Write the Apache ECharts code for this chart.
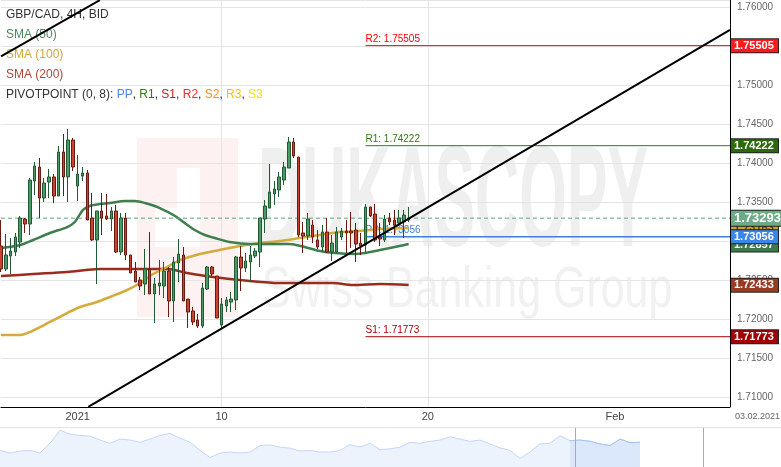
<!DOCTYPE html>
<html><head><meta charset="utf-8">
<script src="https://cdn.jsdelivr.net/npm/echarts/dist/echarts.min.js"></script>
<style>html,body{margin:0;padding:0;background:#fff}#c{width:781px;height:467px}</style>
</head><body><div id="c"></div>
<script>
// ---- data ----
const tickLabels = ['2021', '10', '20', 'Feb'];
const tickIndex = [16, 46, 89, 128];
const slotCount = 153;
// [open, close, low, high]
const candles = [
[1.72936,1.72641,1.72603,1.73269],[1.72641,1.72821,1.72615,1.73090],[1.72808,1.72872,1.72577,1.73038],
[1.72859,1.73051,1.72808,1.73103],[1.72987,1.73295,1.72910,1.73321],[1.73282,1.73218,1.73103,1.73295],
[1.73218,1.73782,1.73077,1.73808],[1.73769,1.73962,1.73590,1.74013],[1.73949,1.73551,1.73295,1.74064],
[1.73551,1.73744,1.73500,1.73808],[1.73756,1.73821,1.73551,1.73923],[1.73821,1.73577,1.73487,1.73859],
[1.73577,1.74141,1.73577,1.74218],[1.74141,1.73821,1.73577,1.74372],[1.73821,1.74295,1.73500,1.74436],
[1.74295,1.73949,1.73898,1.74321],[1.73705,1.73859,1.73513,1.74103],[1.73834,1.73872,1.73769,1.73949],
[1.73872,1.73269,1.73269,1.73910],[1.73295,1.73013,1.73000,1.73615],[1.73013,1.73385,1.72449,1.73385],
[1.73385,1.73295,1.73077,1.73615],[1.73321,1.73282,1.73269,1.73603],[1.73282,1.73385,1.73128,1.73436],
[1.73385,1.72859,1.72846,1.73462],[1.72859,1.73295,1.72821,1.73359],[1.73295,1.72821,1.72756,1.73359],
[1.72821,1.72590,1.72590,1.72821],[1.72615,1.72474,1.72474,1.72731],[1.72500,1.72423,1.72372,1.72539],
[1.72449,1.72641,1.72308,1.72897],[1.72641,1.72321,1.72321,1.73115],[1.72321,1.72449,1.71949,1.72526],
[1.72423,1.72462,1.72308,1.72756],[1.72423,1.72615,1.72269,1.72731],[1.72615,1.72231,1.72026,1.72667],
[1.72231,1.72731,1.71962,1.72795],[1.72718,1.72833,1.72474,1.73026],[1.72821,1.72231,1.72231,1.72923],
[1.72256,1.72090,1.71885,1.72256],[1.72103,1.71962,1.71923,1.72154],[1.71987,1.71910,1.71885,1.72064],
[1.71910,1.72397,1.71885,1.72462],[1.72385,1.72667,1.72372,1.72680],[1.72667,1.72577,1.72551,1.72680],
[1.72551,1.72013,1.72013,1.72551],[1.71923,1.72192,1.71885,1.72269],[1.72167,1.72244,1.72090,1.72282],
[1.72218,1.72256,1.72090,1.72346],[1.72244,1.72795,1.72115,1.72808],[1.72795,1.72654,1.72359,1.72936],
[1.72654,1.72744,1.72603,1.72846],[1.72731,1.72821,1.72474,1.72936],[1.72808,1.72872,1.72782,1.72910],
[1.72859,1.73295,1.72667,1.73295],[1.73282,1.73449,1.73103,1.73526],[1.73423,1.73628,1.73423,1.73987],
[1.73603,1.73667,1.73462,1.73769],[1.73654,1.73821,1.73564,1.73885],[1.73782,1.73949,1.73718,1.74013],
[1.73936,1.74269,1.73936,1.74334],[1.74269,1.74090,1.74064,1.74321],[1.74077,1.73077,1.73051,1.74077],
[1.73103,1.73064,1.72846,1.73244],[1.73064,1.73282,1.73013,1.73359],[1.73205,1.73051,1.72974,1.73269],
[1.73013,1.72923,1.72897,1.73141],[1.72923,1.73115,1.72859,1.73205],[1.73115,1.72859,1.72846,1.73295],
[1.72859,1.72974,1.72744,1.73077],[1.72859,1.73115,1.72846,1.73179],[1.73051,1.73128,1.73013,1.73167],
[1.73128,1.73103,1.72846,1.73269],[1.73128,1.73103,1.72910,1.73372],[1.73141,1.72962,1.72731,1.73231],
[1.72974,1.72936,1.72821,1.73103],[1.72949,1.73436,1.72859,1.73474],[1.73436,1.73321,1.73308,1.73436],
[1.73346,1.73013,1.72987,1.73474],[1.73051,1.73026,1.72936,1.73231],[1.73013,1.73282,1.72987,1.73333],
[1.73295,1.73244,1.73205,1.73359],[1.73269,1.73205,1.73077,1.73398],[1.73231,1.73295,1.73192,1.73398],
[1.73244,1.73333,1.73038,1.73398],[1.73269,1.73293,1.73244,1.73436]
];
// moving averages as [slot, price]
const sma50 = [[0,1.72910],[4,1.72949],[6.7,1.73013],[10.2,1.73103],[13.8,1.73179],[15.4,1.73244],[17.1,1.73398],
[18.5,1.73449],[20.6,1.73474],[22.7,1.73487],[25.8,1.73513],[27.9,1.73513],[30,1.73487],[33.1,1.73423],[36.3,1.73321],
[38.3,1.73231],[40.4,1.73141],[42.5,1.73077],[44.6,1.73038],[47.7,1.72987],[51.9,1.72962],[56,1.72962],[60.2,1.72962],
[63.3,1.72923],[66.5,1.72872],[69.6,1.72846],[73.8,1.72833],[75.8,1.72846],[79,1.72885],[82.1,1.72923],[85,1.72962]];
const sma100 = [[0,1.71795],[4,1.71795],[6,1.71833],[10.2,1.71962],[13.8,1.72077],[16.5,1.72154],[20,1.72218],
[22.7,1.72282],[26.3,1.72372],[29,1.72462],[31.7,1.72577],[34.6,1.72667],[37.3,1.72756],[41.5,1.72833],[45.6,1.72885],
[49.8,1.72936],[54,1.72974],[58.1,1.73000],[62.3,1.73038],[66.5,1.73077],[70.6,1.73115],[74.8,1.73128],[79,1.73154],[85,1.73167]];
const sma200 = [[0,1.72551],[6.7,1.72577],[13.8,1.72603],[20.6,1.72641],[27.5,1.72641],[34.6,1.72641],[38.8,1.72590],
[44.2,1.72539],[51.9,1.72487],[58.1,1.72462],[62.3,1.72462],[69.2,1.72462],[73.3,1.72436],[79,1.72449],[85,1.72436]];
const trend1 = [[0, 1.75367], [20.6, 1.76088]];
const trend2 = [[18.2, 1.70874], [152, 1.75708]];
const pivotStart = 76;
const pivots = [
  {name: 'R2', value: 1.75505, color: '#ff0000'},
  {name: 'R1', value: 1.74222, color: '#2e7a0e'},
  {name: 'PP', value: 1.73056, color: '#3c7fe0'},
  {name: 'S1', value: 1.71773, color: '#a80000'}
];
const lastPrice = 1.73293;
// right-axis value tags: price level and shown text, drawn bottom-most first
const tagLevels = [1.72433, 1.71773, 1.75505, 1.74222, 1.72950, 1.73163, 1.73056, 1.73293];
const tagTexts = ['1.72433', '1.71773', '1.75505', '1.74222', '1.72857', '1.73163', '1.73056', '1.73293'];
const navValues = [1.685,1.6717,1.6817,1.685,1.6717,1.7217,1.7883,1.7683,1.7617,1.7583,1.7383,1.7217,1.7433,1.7383,
1.7267,1.7433,1.7617,1.7717,1.7483,1.7267,1.685,1.6483,1.6717,1.6767,1.6717,1.6767,1.71,1.7133,1.7017,1.6967,1.6817,
1.685,1.6767,1.6767,1.685,1.715,1.7017,1.7217,1.6883,1.6933,1.7017,1.7267,1.7217,1.7317,1.7383,1.755,1.7433,1.7317,
1.7383,1.7183,1.6983,1.685,1.6433,1.6767,1.7183,1.7217,1.76,1.735,1.7383,1.7317,1.7183,1.71,1.7433,1.725,1.7267];
const navWindowStart = 57;

// ---- build ----
const categories = Array.from({length: slotCount}, () => '');
tickIndex.forEach((ix, k) => { categories[ix] = tickLabels[k]; });
const FONT = 'Liberation Sans, Arial, sans-serif';
const tagStyle = [
  {bg: '#9b3a22'}, {bg: '#a00000'}, {bg: '#ff1a1a'}, {bg: '#2b6a0c'}, {bg: '#3b7a4b'},
  {bg: '#c9a233', fg: '#5a4a10'}, {bg: '#3a86e8'}, {bg: '#6daa86', size: 13}
];

const series = [
  {type: 'candlestick', xAxisIndex: 0, yAxisIndex: 0, data: candles, barWidth: 3, z: 3,
   itemStyle: {color: '#4c9868', color0: '#c9432f', borderColor: '#1f5a33', borderColor0: '#6a1a10', borderWidth: 1}},
  {type: 'line', xAxisIndex: 1, yAxisIndex: 0, data: sma200, showSymbol: false, smooth: 0.3, z: 2,
   lineStyle: {color: '#982d1d', width: 2.5}},
  {type: 'line', xAxisIndex: 1, yAxisIndex: 0, data: sma100, showSymbol: false, smooth: 0.3, z: 2,
   lineStyle: {color: '#d4aa3a', width: 2.5}},
  {type: 'line', xAxisIndex: 1, yAxisIndex: 0, data: sma50, showSymbol: false, smooth: 0.3, z: 2,
   lineStyle: {color: '#3f7f4e', width: 2.5}},
  {type: 'line', xAxisIndex: 1, yAxisIndex: 0, data: [[0, lastPrice], [slotCount - 1, lastPrice]], showSymbol: false, z: 2,
   lineStyle: {color: '#5ba57b', type: [4, 3], width: 1}}
];
pivots.forEach(p => {
  series.push({type: 'line', xAxisIndex: 1, yAxisIndex: 0, z: 1, showSymbol: true, symbolSize: 0,
    lineStyle: {color: p.color, width: p.name === 'PP' ? 1.5 : 1},
    data: [{value: [pivotStart, p.value], label: {show: true, position: 'top', align: 'left', distance: 1,
      formatter: p.name + ': ' + p.value.toFixed(5), color: p.color, fontSize: 10, fontFamily: FONT}},
      [slotCount - 1, p.value]]});
});
series.push({type: 'line', xAxisIndex: 1, yAxisIndex: 0, data: trend1, showSymbol: false, z: 4, lineStyle: {color: '#000', width: 2}});
series.push({type: 'line', xAxisIndex: 1, yAxisIndex: 0, data: trend2, showSymbol: false, z: 4, lineStyle: {color: '#000', width: 2}});
tagLevels.forEach((v, k) => {
  const st = tagStyle[k];
  series.push({type: 'line', xAxisIndex: 1, yAxisIndex: 0, z: 6, showSymbol: true, symbolSize: 0, silent: true,
    data: [[slotCount - 1, v]], lineStyle: {opacity: 0},
    label: {show: true, position: 'right', distance: 1, formatter: tagTexts[k], backgroundColor: st.bg,
      color: st.fg || '#fff', fontFamily: FONT, fontSize: st.size || 11, fontWeight: 'bold',
      padding: [1, 3, 1, 3], width: st.size ? 44 : 41, borderColor: '#222', borderWidth: 1, align: 'left'}});
});
series.push({type: 'line', xAxisIndex: 2, yAxisIndex: 1, data: navValues.map((v, i) => [i, v]), showSymbol: false,
  lineStyle: {color: '#c4d7f6', width: 1}, areaStyle: {color: '#edf3fd', opacity: 1}});
series.push({type: 'line', xAxisIndex: 2, yAxisIndex: 1,
  data: navValues.map((v, i) => [i, v]).slice(navWindowStart), showSymbol: false,
  lineStyle: {color: '#a9c4f0', width: 1}, areaStyle: {color: '#dbe7fb', opacity: 1}});

const lf = '12px ' + FONT;
const legendRich = {
  k: {fill: '#333', font: lf}, pp: {fill: '#4a86e8', font: lf}, r1: {fill: '#2e7d10', font: lf},
  s1: {fill: '#b4211b', font: lf}, r2: {fill: '#ff2a2a', font: lf}, s2: {fill: '#ff8c1a', font: lf},
  r3: {fill: '#ffc000', font: lf}, s3: {fill: '#f2e600', font: lf}
};

const option = {
  animation: false,
  backgroundColor: '#fff',
  grid: [
    {left: 1, right: 51, top: 0, bottom: 60, containLabel: false, outerBoundsMode: 'none'},
    {left: 0, right: 0, top: 428, height: 39, containLabel: false, outerBoundsMode: 'none'}
  ],
  xAxis: [
    {type: 'category', gridIndex: 0, data: categories, boundaryGap: false,
     axisLine: {show: true, onZero: false, lineStyle: {color: '#000', width: 1}}, axisTick: {show: false},
     axisLabel: {interval: 0, color: '#444', fontSize: 11, fontFamily: FONT, margin: 4},
     splitLine: {show: true, showMinLine: false, showMaxLine: false,
       interval: (i, v) => v !== '', lineStyle: {color: '#e4e4e4'}}},
    {type: 'value', gridIndex: 0, min: 0, max: slotCount - 1, show: false,
     axisLine: {show: false, onZero: false}, axisTick: {show: false}, splitLine: {show: false}},
    {type: 'value', gridIndex: 1, min: 0, max: 78.1, show: false, axisLine: {show: false, onZero: false}}
  ],
  yAxis: [
    {type: 'value', gridIndex: 0, position: 'right', min: 1.70872, max: 1.76090, splitNumber: 10,
     axisLine: {show: false, onZero: false}, axisTick: {show: false},
     axisLabel: {formatter: v => v.toFixed(5), color: '#666', fontSize: 10, fontFamily: FONT, margin: 7,
       showMinLabel: false, showMaxLabel: false},
     splitLine: {show: true, lineStyle: {color: '#e4e4e4'}}},
    {type: 'value', gridIndex: 1, min: 1.60, max: 1.80, show: false, axisLine: {show: false, onZero: false}}
  ],
  graphic: [
    {type: 'rect', z: 0, shape: {x: 137, y: 138, width: 101, height: 179}, style: {fill: '#fdf1f1'}, silent: true},
    {type: 'rect', z: 0, shape: {x: 177, y: 168, width: 23, height: 40}, style: {fill: '#ffffff'}, silent: true},
    {type: 'rect', z: 0, shape: {x: 155, y: 208, width: 45, height: 39}, style: {fill: '#ffffff'}, silent: true},
    {type: 'text', z: 0, x: 258, y: 136, scaleX: 0.43, style: {text: 'DUKASCOPY', font: 'bold 142px ' + FONT, fill: '#efefef'}, silent: true},
    {type: 'text', z: 0, x: 262, y: 262, scaleX: 0.74, style: {text: 'Swiss Banking Group', font: '58px ' + FONT, fill: '#f1f1f1'}, silent: true},
    {type: 'text', z: 1, x: 6, y: 9, style: {text: 'GBP/CAD, 4H, BID', font: lf, fill: '#333'}},
    {type: 'text', z: 1, x: 6, y: 29, style: {text: 'SMA (50)', font: lf, fill: '#4a8a5c'}},
    {type: 'text', z: 1, x: 6, y: 49, style: {text: 'SMA (100)', font: lf, fill: '#d2a63a'}},
    {type: 'text', z: 1, x: 6, y: 69, style: {text: 'SMA (200)', font: lf, fill: '#ab4a3a'}},
    {type: 'text', z: 1, x: 6, y: 89, style: {
      text: '{k|PIVOTPOINT (0, 8): }{pp|PP}{k|, }{r1|R1}{k|, }{s1|S1}{k|, }{r2|R2}{k|, }{s2|S2}{k|, }{r3|R3}{k|, }{s3|S3}',
      rich: legendRich, font: lf, fill: '#333'}},
    {type: 'text', z: 1, x: 735, y: 412, style: {text: '03.02.2021', font: '9px ' + FONT, fill: '#666'}},
    {type: 'line', z: 10, shape: {x1: 730.5, y1: 0, x2: 730.5, y2: 407}, style: {stroke: '#000', lineWidth: 1}},
    {type: 'line', z: 10, shape: {x1: 0, y1: 427.5, x2: 781, y2: 427.5}, style: {stroke: '#e2e2e2', lineWidth: 1}},
    {type: 'line', z: 10, shape: {x1: 575.5, y1: 428, x2: 575.5, y2: 467}, style: {stroke: '#aaa', lineWidth: 1}},
    {type: 'line', z: 10, shape: {x1: 703.5, y1: 428, x2: 703.5, y2: 467}, style: {stroke: '#aaa', lineWidth: 1}}
  ],
  series: series
};
const chart = echarts.init(document.getElementById('c'), null, {renderer: 'canvas'});
chart.setOption(option);
</script></body></html>
